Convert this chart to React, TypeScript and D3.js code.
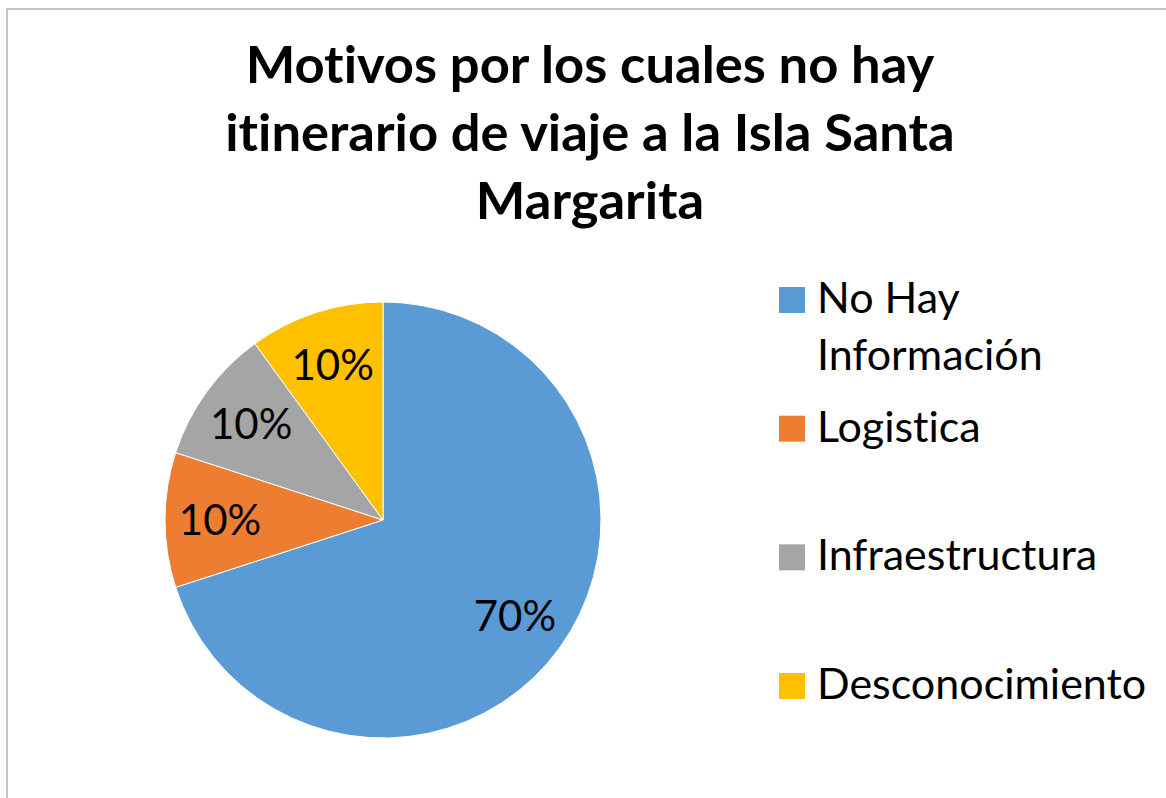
import { useEffect, useRef } from "react";
import * as d3 from "d3";

const categories = ["No Hay Información", "Logistica", "Infraestructura", "Desconocimiento"];
const values = [70, 10, 10, 10];
const colors = ["#5B9BD5", "#ED7D31", "#A5A5A5", "#FFC000"];
const titleLines = ["Motivos por los cuales no hay", "itinerario de viaje a la Isla Santa", "Margarita"];

const width = 1166;
const height = 798;

// split long legend labels before the last word
const wrap = (s: string) => {
  const i = s.lastIndexOf(" ");
  return s.length > 15 && i > 0 ? [s.slice(0, i), s.slice(i + 1)] : [s];
};

export default function App() {
  const svgRef = useRef<SVGSVGElement | null>(null);

  useEffect(() => {
    const svg = d3.select(svgRef.current);
    svg.selectAll("*").remove();

    // chart frame (runs off the right and bottom edge)
    svg.append("rect")
      .attr("x", 7).attr("y", 9)
      .attr("width", width + 20).attr("height", height + 20)
      .attr("fill", "#fff")
      .attr("stroke", "#b4b4b4")
      .attr("stroke-width", 1.5);

    // title
    svg.append("g")
      .selectAll("text")
      .data(titleLines)
      .join("text")
      .attr("x", 590)
      .attr("y", (_, i) => 83 + i * 68)
      .attr("text-anchor", "middle")
      .style("font-family", "Lato, 'Open Sans', sans-serif")
      .style("font-weight", 700)
      .style("font-size", "52.5px")
      .style("font-variant-ligatures", "none")
      .style("fill", "#000")
      .text((d) => d);

    const cx = 383, cy = 520, R = 218;
    const pie = d3.pie<number>().sort(null).value((d) => d);
    const arcs = pie(values);
    const arc = d3.arc<d3.PieArcDatum<number>>().innerRadius(0).outerRadius(R);
    const labelArc = d3.arc<d3.PieArcDatum<number>>().innerRadius(163).outerRadius(163);
    const total = d3.sum(values);

    const g = svg.append("g").attr("transform", `translate(${cx},${cy})`);
    g.selectAll("path")
      .data(arcs)
      .join("path")
      .attr("d", arc)
      .attr("fill", (_, i) => colors[i])
      .attr("stroke", "#fff")
      .attr("stroke-width", 1);

    g.selectAll("text")
      .data(arcs)
      .join("text")
      .attr("transform", (d) => `translate(${labelArc.centroid(d)})`)
      .attr("dy", "0.36em")
      .attr("text-anchor", "middle")
      .style("font-family", "Lato, 'Open Sans', sans-serif")
      .style("font-size", "42px")
      .style("fill", "#000")
      .text((d) => `${Math.round((d.data / total) * 100)}%`);

    // legend
    const ly = d3.scaleLinear().domain([0, categories.length - 1]).range([300, 686]);
    const items = svg.append("g")
      .selectAll("g")
      .data(categories)
      .join("g")
      .attr("transform", (_, i) => `translate(779,${ly(i)})`);
    items.append("rect")
      .attr("x", 0).attr("y", -13)
      .attr("width", 26).attr("height", 26)
      .attr("fill", (_, i) => colors[i]);
    items.append("text")
      .attr("x", 38)
      .attr("y", 13)
      .style("font-family", "Lato, 'Open Sans', sans-serif")
      .style("font-size", "43px")
      .style("font-variant-ligatures", "none")
      .style("fill", "#000")
      .selectAll("tspan")
      .data((d) => wrap(d))
      .join("tspan")
      .attr("x", 38)
      .attr("dy", (_, i) => (i === 0 ? 0 : 57))
      .text((d) => d);
  }, []);

  return (
    <svg
      ref={svgRef}
      width={width}
      height={height}
      style={{ position: "absolute", left: 0, top: 0, background: "#fff" }}
    />
  );
}
